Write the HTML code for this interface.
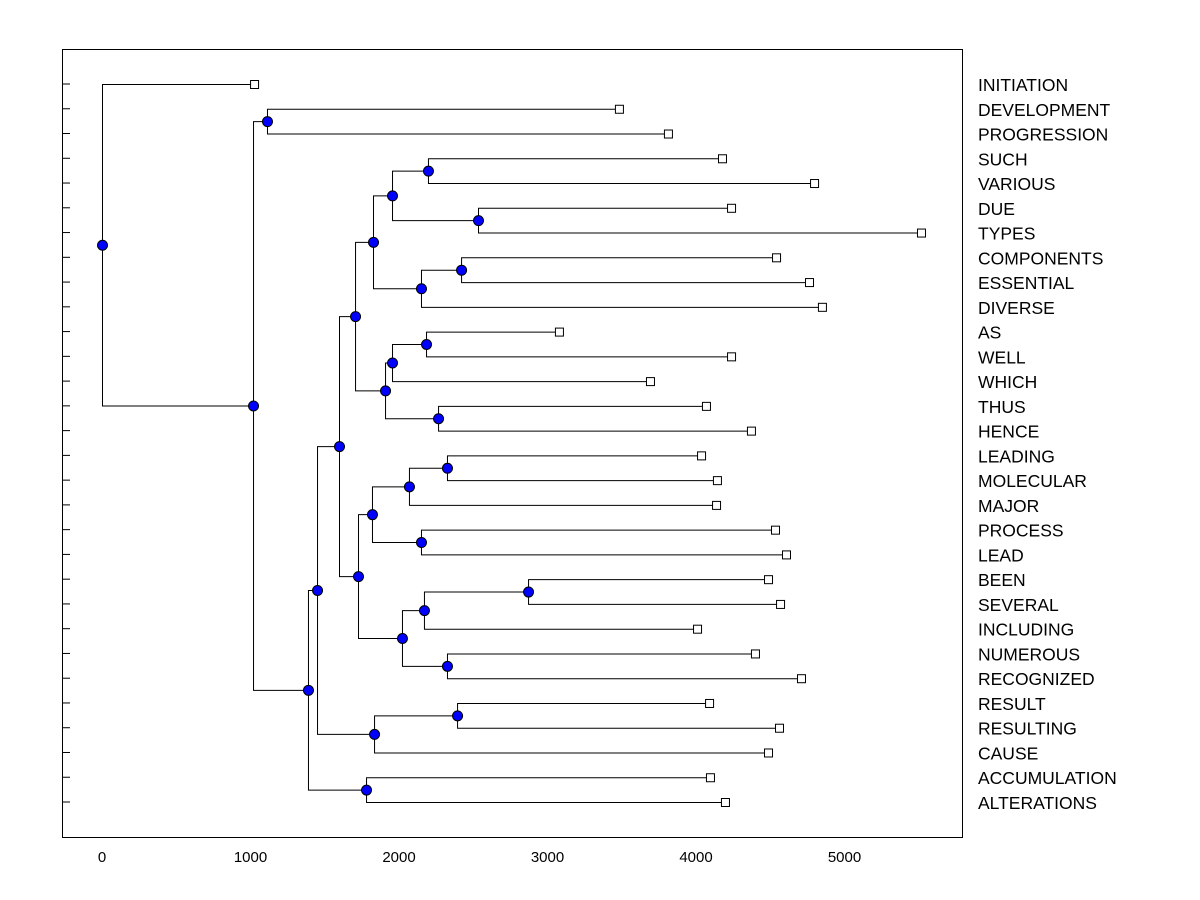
<!DOCTYPE html>
<html><head><meta charset="utf-8"><style>
body{margin:0;background:#fff;}
svg{display:block;font-family:"Liberation Sans",Arial,sans-serif;}
</style></head><body>
<svg id="chart" width="1200" height="900" viewBox="0 0 1200 900">
<rect x="62.5" y="49.5" width="900" height="788" fill="#fff" stroke="#000" stroke-width="1"/>
<g id="axis"></g><g id="links"></g><g id="nodes"></g><g id="labels"></g>
</svg>
<script>
const leafLabels=["INITIATION","DEVELOPMENT","PROGRESSION","SUCH","VARIOUS","DUE","TYPES","COMPONENTS","ESSENTIAL","DIVERSE","AS","WELL","WHICH","THUS","HENCE","LEADING","MOLECULAR","MAJOR","PROCESS","LEAD","BEEN","SEVERAL","INCLUDING","NUMEROUS","RECOGNIZED","RESULT","RESULTING","CAUSE","ACCUMULATION","ALTERATIONS"];
const leafValues=[1024,3481,3811,4175,4795,4236,5515,4539,4761,4848,3077,4236,3690,4067,4370,4034,4141,4135,4532,4606,4485,4566,4007,4397,4707,4088,4559,4485,4094,4195];
const mergeLeft=[3,5,7,10,13,15,18,20,23,25,28,1,30,32,42,33,45,44,35,48,37,50,49,47,39,53,55,41,0];
const mergeRight=[4,6,8,11,14,16,19,21,24,26,29,2,31,9,43,12,34,46,17,36,22,38,51,52,27,54,40,56,57];
const mergeHeights=[2195,2532,2418,2182,2263,2323,2148,2869,2323,2391,1778,1111,1953,2148,1825,1953,1906,1704,2067,1818,2168,2020,1724,1596,1832,1448,1387,1017,0];
const xTicks=[0,1000,2000,3000,4000,5000];

const NS="http://www.w3.org/2000/svg";
const xS=v=>102+v*0.1485;
const yS=i=>84+i*(802-84)/29;
function mk(tag,attrs,parent){const e=document.createElementNS(NS,tag);for(const k in attrs)e.setAttribute(k,attrs[k]);document.getElementById(parent).appendChild(e);return e;}
const N=leafLabels.length;
const nx=[],ny=[];
leafLabels.forEach((l,i)=>{nx[i]=xS(leafValues[i]);ny[i]=yS(i);});
xTicks.forEach(t=>{
  const tx=mk('text',{x:xS(t),y:862,'text-anchor':'middle','font-size':15},'axis');
  tx.textContent=t;
  
  
});
leafLabels.forEach((l,i)=>{
  const tk=mk('line',{x1:62,x2:70,y1:yS(i),y2:yS(i),stroke:'#000'},'axis');
  
  
  const t=mk('text',{x:978,y:yS(i)+7,'font-size':17.5},'labels');
  t.textContent=l;
  
  
});
mergeHeights.forEach((h,k)=>{
  const id=N+k,a=mergeLeft[k],b=mergeRight[k],x=xS(h);
  nx[id]=x;ny[id]=(ny[a]+ny[b])/2;
  const p=mk('path',{d:`M${nx[a]},${ny[a]+0.5}H${x+0.5}V${ny[b]+0.5}H${nx[b]}`,fill:'none',stroke:'#000','stroke-width':1},'links');
  
  
});
mergeHeights.forEach((h,k)=>{
  const id=N+k;
  const c=mk('circle',{cx:nx[id]+0.5,cy:ny[id]+0.5,r:5,fill:'#0000ff',stroke:'#000','stroke-width':1},'nodes');
  
  
});
leafLabels.forEach((l,i)=>{
  const r=mk('rect',{x:nx[i]-3.5,y:ny[i]-3.5,width:8,height:8,fill:'#fff',stroke:'#000'},'nodes');
  
  
});
</script>
</body></html>
